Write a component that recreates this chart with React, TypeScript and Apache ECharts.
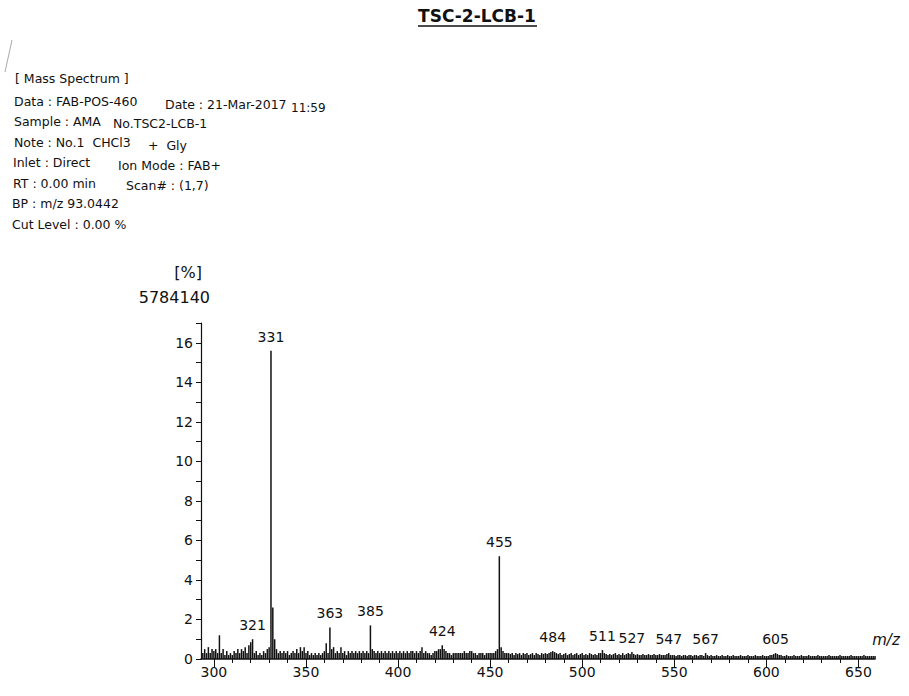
import React, { useEffect, useRef } from "react";
import * as echarts from "echarts";

const TITLE = "TSC-2-LCB-1";
const Y_UNIT_LABEL = "[%]";
const Y_BASE_VALUE = "5784140";
const X_NAME = "m/z";

// m/z of the first stick; one intensity per unit m/z below (relative %)
const MZ_START = 294;
const intensities = [
  // 294-299
  0.3, 0.5, 0.3, 0.6, 0.3, 0.5,
  // 300-309
  0.4, 0.5, 0.3, 1.2, 0.3, 0.5, 0.2, 0.4, 0.2, 0.3,
  // 310-319
  0.2, 0.4, 0.3, 0.5, 0.3, 0.5, 0.4, 0.6, 0.3, 0.7,
  // 320-329
  0.85, 1.0, 0.3, 0.4, 0.2, 0.3, 0.2, 0.4, 0.3, 0.5,
  // 330-339
  0.6, 15.6, 2.6, 1.0, 0.5, 0.3, 0.4, 0.3, 0.4, 0.3,
  // 340-349
  0.4, 0.2, 0.3, 0.4, 0.3, 0.5, 0.3, 0.6, 0.4, 0.6,
  // 350-359
  0.3, 0.4, 0.2, 0.3, 0.2, 0.3, 0.2, 0.3, 0.2, 0.3,
  // 360-369
  0.4, 0.8, 0.3, 1.6, 0.5, 0.6, 0.3, 0.4, 0.3, 0.6,
  // 370-379
  0.3, 0.4, 0.2, 0.4, 0.3, 0.4, 0.3, 0.4, 0.3, 0.4,
  // 380-389
  0.3, 0.4, 0.3, 0.4, 0.3, 1.7, 0.5, 0.4, 0.3, 0.4,
  // 390-399
  0.3, 0.4, 0.3, 0.4, 0.3, 0.4, 0.3, 0.4, 0.3, 0.4,
  // 400-409
  0.3, 0.4, 0.3, 0.4, 0.3, 0.4, 0.3, 0.4, 0.4, 0.3,
  // 410-419
  0.4, 0.3, 0.4, 0.6, 0.3, 0.4, 0.3, 0.3, 0.2, 0.3,
  // 420-429
  0.4, 0.4, 0.5, 0.5, 0.7, 0.5, 0.4, 0.3, 0.3, 0.2,
  // 430-439
  0.3, 0.3, 0.3, 0.3, 0.3, 0.3, 0.4, 0.3, 0.3, 0.4,
  // 440-449
  0.4, 0.3, 0.3, 0.2, 0.3, 0.3, 0.3, 0.2, 0.3, 0.3,
  // 450-459
  0.3, 0.3, 0.3, 0.4, 0.5, 5.2, 0.6, 0.4, 0.3, 0.3,
  // 460-469
  0.3, 0.25, 0.3, 0.2, 0.3, 0.25, 0.3, 0.2, 0.3, 0.25,
  // 470-479
  0.3, 0.2, 0.25, 0.3, 0.2, 0.3, 0.25, 0.2, 0.3, 0.25,
  // 480-489
  0.3, 0.25, 0.3, 0.35, 0.4, 0.35, 0.3, 0.25, 0.3, 0.2,
  // 490-499
  0.25, 0.3, 0.2, 0.25, 0.3, 0.2, 0.25, 0.3, 0.2, 0.25,
  // 500-509
  0.3, 0.2, 0.25, 0.2, 0.3, 0.25, 0.2, 0.25, 0.2, 0.3,
  // 510-519
  0.3, 0.45, 0.3, 0.25, 0.2, 0.25, 0.2, 0.25, 0.3, 0.2,
  // 520-529
  0.25, 0.2, 0.3, 0.2, 0.25, 0.3, 0.25, 0.35, 0.25, 0.2,
  // 530-539
  0.25, 0.2, 0.2, 0.25, 0.2, 0.2, 0.25, 0.2, 0.2, 0.25,
  // 540-549
  0.2, 0.2, 0.25, 0.2, 0.2, 0.2, 0.25, 0.3, 0.2, 0.2,
  // 550-559
  0.2, 0.15, 0.2, 0.2, 0.15, 0.2, 0.2, 0.15, 0.2, 0.2,
  // 560-569
  0.15, 0.2, 0.2, 0.15, 0.2, 0.2, 0.15, 0.3, 0.2, 0.15,
  // 570-579
  0.2, 0.15, 0.15, 0.2, 0.15, 0.15, 0.2, 0.15, 0.15, 0.2,
  // 580-589
  0.15, 0.15, 0.2, 0.15, 0.15, 0.15, 0.2, 0.15, 0.15, 0.15,
  // 590-599
  0.2, 0.15, 0.15, 0.15, 0.2, 0.15, 0.15, 0.15, 0.2, 0.15,
  // 600-609
  0.15, 0.15, 0.2, 0.2, 0.25, 0.3, 0.25, 0.2, 0.2, 0.15,
  // 610-619
  0.15, 0.2, 0.15, 0.15, 0.15, 0.2, 0.15, 0.15, 0.15, 0.2,
  // 620-629
  0.15, 0.15, 0.15, 0.2, 0.15, 0.15, 0.15, 0.15, 0.2, 0.15,
  // 630-639
  0.15, 0.15, 0.15, 0.15, 0.2, 0.15, 0.15, 0.15, 0.15, 0.15,
  // 640-649
  0.2, 0.15, 0.15, 0.15, 0.15, 0.15, 0.2, 0.15, 0.15, 0.15,
  // 650-659
  0.15, 0.15, 0.15, 0.2, 0.15, 0.15, 0.15, 0.15, 0.15, 0.15,
];

const labeledPeaks = [321, 331, 363, 385, 424, 455, 484, 511, 527, 547, 567, 605];

const xMajorTicks = [300, 350, 400, 450, 500, 550, 600, 650];
const xMinorTicks = [
  300, 310, 320, 330, 340, 350, 360, 370, 380, 390, 400, 410, 420, 430, 440, 450,
  460, 470, 480, 490, 500, 510, 520, 530, 540, 550, 560, 570, 580, 590, 600, 610,
  620, 630, 640, 650,
];

const headerLines = [
  "[ Mass Spectrum ]",
  "Data : FAB-POS-460",
  "Sample : AMA",
  "Note : No.1  CHCl3",
  "Inlet : Direct",
  "RT : 0.00 min",
  "BP : m/z 93.0442",
  "Cut Level : 0.00 %",
];
const headerRight = [
  "",
  "Date : 21-Mar-2017",
  "No.TSC2-LCB-1",
  "+  Gly",
  "Ion Mode : FAB+",
  "Scan# : (1,7)",
  "",
  "",
];
const headerTime = "11:59";

const FONT = "'DejaVu Sans', Verdana, sans-serif";
const INK = "#111";

export default function App() {
  const ref = useRef<HTMLDivElement>(null);

  useEffect(() => {
    if (!ref.current) return;
    const chart = echarts.init(ref.current, undefined, { renderer: "svg" });

    const data = intensities.map((v, i) => {
      const m = MZ_START + i;
      return { value: [m, v], label: { show: labeledPeaks.includes(m) } };
    });

    const headerLeftX = [15, 14, 14, 14, 13, 13, 12, 12];
    const headerY = [78, 101, 121, 142, 162, 183, 203, 224];
    const headerRightX = [0, 165, 113, 148, 118, 126, 0, 0];
    const headerRightDy = [0, 3, 2, 3, 3, 2, 0, 0];

    const graphics: any[] = [
      {
        type: "text",
        style: {
          text: TITLE,
          x: 477,
          y: 16,
          align: "center",
          verticalAlign: "middle",
          font: `bold 17px ${FONT}`,
          fill: INK,
        },
      },
      {
        type: "line",
        shape: { x1: 418, y1: 26, x2: 537, y2: 26 },
        style: { stroke: INK, lineWidth: 1.5 },
      },
      {
        type: "line",
        shape: { x1: 12, y1: 40, x2: 5, y2: 72 },
        style: { stroke: "#aaa", lineWidth: 1 },
      },
      {
        type: "text",
        style: {
          text: Y_UNIT_LABEL,
          x: 202,
          y: 272,
          align: "right",
          verticalAlign: "middle",
          font: `16px ${FONT}`,
          fill: INK,
        },
      },
      {
        type: "text",
        style: {
          text: Y_BASE_VALUE,
          x: 210,
          y: 297,
          align: "right",
          verticalAlign: "middle",
          font: `16px ${FONT}`,
          fill: INK,
        },
      },
      {
        type: "text",
        style: {
          text: X_NAME,
          x: 886,
          y: 640,
          align: "center",
          verticalAlign: "middle",
          font: `italic 15px ${FONT}`,
          fill: INK,
        },
      },
      {
        type: "text",
        style: {
          text: headerTime,
          x: 291,
          y: 108,
          align: "left",
          verticalAlign: "middle",
          font: `12px ${FONT}`,
          fill: INK,
        },
      },
    ];
    headerLines.forEach((t, i) => {
      graphics.push({
        type: "text",
        style: {
          text: t,
          x: headerLeftX[i],
          y: headerY[i],
          align: "left",
          verticalAlign: "middle",
          font: `12.5px ${FONT}`,
          fill: INK,
        },
      });
      if (headerRight[i]) {
        graphics.push({
          type: "text",
          style: {
            text: headerRight[i],
            x: headerRightX[i],
            y: headerY[i] + headerRightDy[i],
            align: "left",
            verticalAlign: "middle",
            font: `12.5px ${FONT}`,
            fill: INK,
          },
        });
      }
    });

    chart.setOption({
      animation: false,
      backgroundColor: "#fff",
      grid: { left: 201, right: 34, top: 323, bottom: 37 },
      xAxis: [
        {
          type: "value",
          min: 293,
          max: 659,
          position: "bottom",
          axisLine: { show: true, lineStyle: { color: INK, width: 1.5 } },
          axisTick: {
            show: true,
            length: 8,
            customValues: xMajorTicks,
            lineStyle: { color: INK, width: 1 },
          },
          axisLabel: {
            show: true,
            customValues: xMajorTicks,
            fontSize: 14,
            fontFamily: FONT,
            color: INK,
            margin: 6,
          },
          splitLine: { show: false },
        },
        {
          type: "value",
          min: 293,
          max: 659,
          position: "bottom",
          axisLine: { show: false },
          axisTick: {
            show: true,
            length: 4,
            customValues: xMinorTicks,
            lineStyle: { color: INK, width: 1 },
          },
          axisLabel: { show: false },
          splitLine: { show: false },
        },
      ],
      yAxis: {
        type: "value",
        min: 0,
        max: 17,
        interval: 1,
        axisLine: { show: true, lineStyle: { color: INK, width: 1.2 } },
        axisTick: { show: true, length: 5, lineStyle: { color: INK } },
        axisLabel: {
          formatter: (v: number) => (v % 2 === 0 ? String(v) : ""),
          fontSize: 14,
          fontFamily: FONT,
          color: INK,
          margin: 8,
        },
        splitLine: { show: false },
      },
      series: [
        {
          type: "bar",
          xAxisIndex: 0,
          yAxisIndex: 0,
          barWidth: 1.5,
          silent: true,
          itemStyle: { color: INK },
          label: {
            position: "top",
            distance: 7,
            fontSize: 14,
            fontFamily: FONT,
            color: INK,
            formatter: (p: any) => String(p.value[0]),
          },
          data,
        },
      ],
      graphic: graphics,
    });

    return () => chart.dispose();
  }, []);

  return (
    <div
      ref={ref}
      style={{ position: "absolute", left: 0, top: 0, width: 909, height: 696, background: "#fff" }}
    />
  );
}
